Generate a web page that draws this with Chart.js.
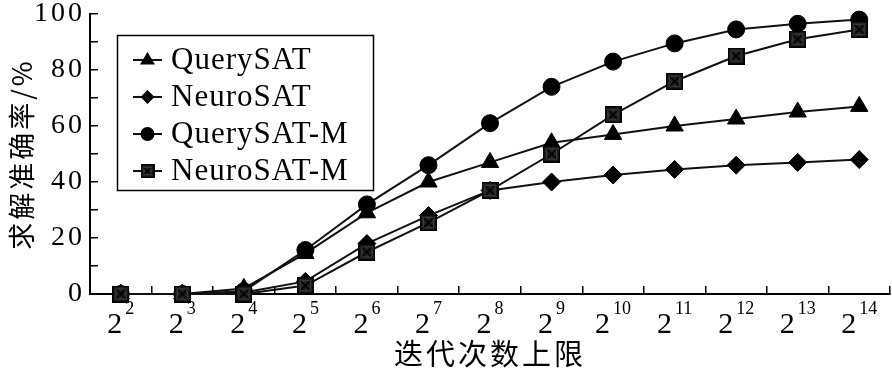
<!DOCTYPE html>
<html>
<head>
<meta charset="utf-8">
<script src="https://cdn.jsdelivr.net/npm/chart.js@4.4.1/dist/chart.umd.min.js"></script>
<style>
  body { margin: 0; background: #fff; }
  #wrap { width: 892px; height: 371px; }
</style>
</head>
<body>
<div id="wrap"><canvas id="acc-chart"></canvas></div>
<script>
// iteration limit = 2^exp
const exponents = ['2', '3', '4', '5', '6', '7', '8', '9', '10', '11', '12', '13', '14'];
const seriesNames = ['QuerySAT', 'NeuroSAT', 'QuerySAT-M', 'NeuroSAT-M'];

const querySAT  = [0, 0, 2, 14.5, 29, 40, 47, 54, 57, 60, 62.5, 65, 67];
const neuroSAT  = [0, 0, 0.5, 4.5, 18, 28, 37, 40, 42.5, 44.5, 46, 47, 48];
const querySATM = [0, 0, 1, 15.7, 32, 46, 61, 74, 83, 89.5, 94.5, 96.5, 98];
const neuroSATM = [0, 0, 0, 3, 15, 25.5, 37, 50, 64, 76, 85, 91, 94.5];

const xTitle = '迭代次数上限';
const yTitle = '求解准确率/%';

// square with a cross in it, used as point style
function makeBoxX(size) {
    const c = document.createElement('canvas');
    c.width = size;
    c.height = size;
    const g = c.getContext('2d');
    g.fillStyle = '#222';
    g.fillRect(0, 0, size, size);
    g.strokeStyle = '#000';
    g.lineWidth = 1.5;
    g.strokeRect(0.75, 0.75, size - 1.5, size - 1.5);
    g.strokeStyle = '#3c3c3c';
    g.lineWidth = 1;
    g.strokeRect(3.5, 3.5, size - 7, size - 7);
    g.strokeStyle = '#000';
    g.lineWidth = 1.6;
    g.beginPath();
    g.moveTo(4, 4);
    g.lineTo(size - 4, size - 4);
    g.moveTo(size - 4, 4);
    g.lineTo(4, size - 4);
    g.stroke();
    return c;
}

const boxX = makeBoxX(17);
const boxXSmall = makeBoxX(14);

const styles = [
    { pointStyle: 'triangle', radius: 10, order: 2 },
    { pointStyle: 'rectRot', radius: 9, order: 3 },
    { pointStyle: 'circle', radius: 8.5, order: 1 },
    { pointStyle: boxX, radius: 8.5, order: 0 },
];
const values = [querySAT, neuroSAT, querySATM, neuroSATM];

// draws the x tick labels as 2 with a superscript exponent
const powerLabels = {
    id: 'powerLabels',
    afterDraw(chart) {
        const { ctx, scales: { x } } = chart;
        ctx.save();
        ctx.letterSpacing = '0px';
        ctx.fillStyle = '#000';
        ctx.textAlign = 'left';
        ctx.textBaseline = 'alphabetic';
        exponents.forEach((e, i) => {
            const cx = x.getPixelForValue(i);
            ctx.font = '30px "Liberation Serif"';
            const wb = ctx.measureText('2').width;
            ctx.font = '18px "Liberation Serif"';
            const we = ctx.measureText(e).width;
            const start = cx - (wb + 3 + we) / 2;
            ctx.font = '30px "Liberation Serif"';
            ctx.fillText('2', start, 333);
            ctx.font = '18px "Liberation Serif"';
            ctx.fillText(e, start + wb + 3, 314);
        });
        ctx.restore();
    }
};

function drawMarker(ctx, kind, x, y) {
    ctx.fillStyle = '#000';
    ctx.beginPath();
    if (kind === 0) {
        ctx.moveTo(x, y - 8);
        ctx.lineTo(x + 7.5, y + 4.5);
        ctx.lineTo(x - 7.5, y + 4.5);
        ctx.closePath();
        ctx.fill();
    } else if (kind === 1) {
        ctx.moveTo(x, y - 7);
        ctx.lineTo(x + 7, y);
        ctx.lineTo(x, y + 7);
        ctx.lineTo(x - 7, y);
        ctx.closePath();
        ctx.fill();
    } else if (kind === 2) {
        ctx.arc(x, y, 7, 0, Math.PI * 2);
        ctx.fill();
    } else {
        ctx.drawImage(boxXSmall, x - 7, y - 7);
    }
}

// boxed legend with line + marker samples
const boxLegend = {
    id: 'boxLegend',
    afterDraw(chart) {
        const ctx = chart.ctx;
        ctx.save();
        ctx.strokeStyle = '#000';
        ctx.lineWidth = 1.5;
        ctx.strokeRect(117.5, 35.5, 256, 155);
        ctx.font = '31px "Liberation Serif"';
        ctx.letterSpacing = '1px';
        ctx.textBaseline = 'alphabetic';
        seriesNames.forEach((name, i) => {
            const y = 60 + i * 37;
            ctx.strokeStyle = '#111';
            ctx.lineWidth = 2;
            ctx.beginPath();
            ctx.moveTo(133, y);
            ctx.lineTo(162, y);
            ctx.stroke();
            drawMarker(ctx, i, 147.5, y);
            ctx.fillStyle = '#000';
            ctx.fillText(name, 171, y + 8.5);
        });
        ctx.restore();
    }
};

const spacing = {
    id: 'spacing',
    beforeDraw(chart) {
        chart.ctx.letterSpacing = '3px';
    }
};

// fixed box sizes, no extra label padding
function fixX(scale) {
    scale.height = 77;
    scale.paddingLeft = 0;
    scale.paddingRight = 0;
}
function fixY(scale) {
    scale.width = 90;
    scale.paddingTop = 0;
    scale.paddingBottom = 0;
}

function initChart() {
    const ctx = document.getElementById('acc-chart').getContext('2d');

    const datasets = values.map((data, i) => ({
        label: seriesNames[i],
        data: data,
        order: styles[i].order,
        borderColor: '#111',
        borderWidth: 2,
        backgroundColor: '#000',
        pointStyle: styles[i].pointStyle,
        pointRadius: styles[i].radius,
        pointBackgroundColor: '#000',
        pointBorderColor: '#000',
        pointBorderWidth: 1,
        tension: 0,
        fill: false,
        clip: false,
    }));

    new Chart(ctx, {
        type: 'line',
        data: {
            labels: exponents.map(e => '2^' + e),
            datasets: datasets
        },
        options: {
            responsive: true,
            maintainAspectRatio: false,
            animation: false,
            devicePixelRatio: 1,
            layout: {
                autoPadding: false,
                padding: { top: 14, right: 2, left: 0, bottom: 0 }
            },
            plugins: {
                legend: { display: false },
                tooltip: { enabled: false },
            },
            scales: {
                x: {
                    offset: true,
                    afterFit: fixX,
                    grid: {
                        offset: true,
                        drawOnChartArea: false,
                        drawTicks: true,
                        tickLength: -8,
                        color: '#000',
                        lineWidth: 1.5,
                    },
                    border: { display: true, color: '#000', width: 2 },
                    ticks: { display: false },
                    title: {
                        display: true,
                        text: xTitle,
                        color: '#000',
                        font: { family: '"Noto Sans CJK SC"', size: 29, weight: 'normal' },
                        padding: { top: 0, bottom: 0 },
                    },
                },
                y: {
                    min: 0,
                    max: 100,
                    afterFit: fixY,
                    grid: {
                        drawOnChartArea: false,
                        drawTicks: true,
                        tickLength: -8,
                        color: '#000',
                        lineWidth: 1.5,
                    },
                    border: { display: true, color: '#000', width: 2 },
                    ticks: {
                        stepSize: 10,
                        autoSkip: false,
                        padding: 13,
                        color: '#000',
                        font: { family: '"Liberation Serif"', size: 28 },
                        callback: (v) => (v % 20 === 0 ? v : ''),
                    },
                    title: {
                        display: true,
                        text: yTitle,
                        color: '#000',
                        font: { family: '"Noto Sans CJK SC"', size: 27, weight: 'normal' },
                        padding: { top: 6, bottom: 0 },
                    },
                },
            },
        },
        plugins: [spacing, powerLabels, boxLegend]
    });
}

document.addEventListener('DOMContentLoaded', function() {
    initChart();
});
</script>
</body>
</html>
